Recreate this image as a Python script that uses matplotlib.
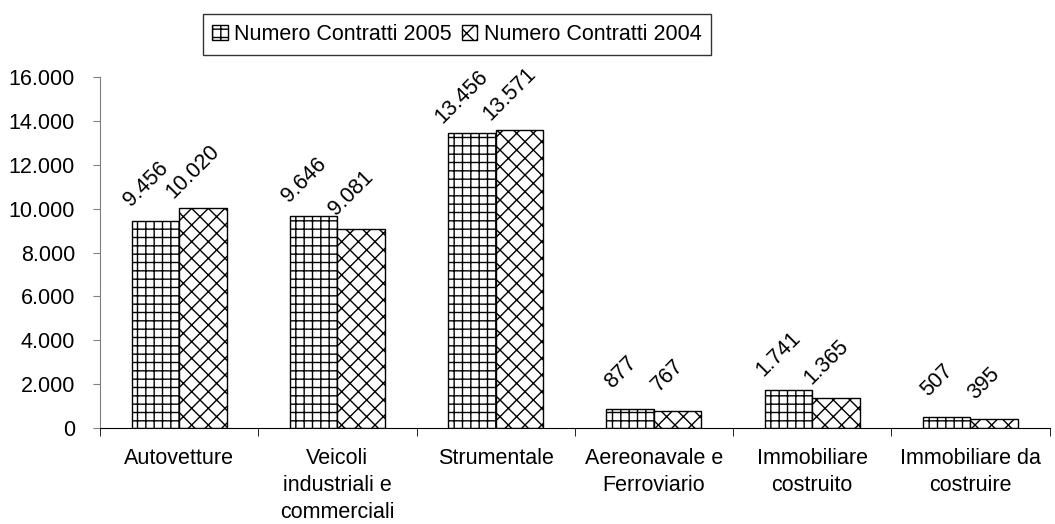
import numpy as np
import matplotlib
matplotlib.use('Agg')
import matplotlib.pyplot as plt

plt.rcParams['font.family'] = ['Liberation Sans', 'DejaVu Sans']
plt.rcParams['hatch.linewidth'] = 1.0

categories = ['Autovetture', 'Veicoli\nindustriali e\ncommerciali', 'Strumentale',
              'Aereonavale e\nFerroviario', 'Immobiliare\ncostruito', 'Immobiliare da\ncostruire']
contratti_2005 = [9456, 9646, 13456, 877, 1741, 507]
contratti_2004 = [10020, 9081, 13571, 767, 1365, 395]
y_ticks = [0, 2000, 4000, 6000, 8000, 10000, 12000, 14000, 16000]

FS = 15.5


def fmt(v):
    return f'{v:,}'.replace(',', '.')


fig = plt.figure(figsize=(10.55, 5.24), dpi=100)
ax = fig.add_axes([0.0948, 0.183, 0.9, 0.67])

x = np.arange(len(categories))
w = 0.3
b1 = ax.bar(x - w / 2, contratti_2005, w, color='white', edgecolor='black',
            hatch='++', linewidth=1.0, label='Numero Contratti 2005')
b2 = ax.bar(x + w / 2, contratti_2004, w, color='white', edgecolor='black',
            hatch='xx', linewidth=1.0, label='Numero Contratti 2004')

# value labels, rotated 45 degrees above each bar
for bars, vals in [(b1, contratti_2005), (b2, contratti_2004)]:
    for r, v in zip(bars, vals):
        ax.annotate(fmt(v), (r.get_x() + r.get_width() / 2, v), xytext=(-7, 26),
                    textcoords='offset points', rotation=45, ha='center',
                    va='center', rotation_mode='anchor', fontsize=FS)

ax.set_xlim(-0.5, len(categories) - 0.5)
ax.set_ylim(0, 16000)
ax.set_yticks(y_ticks)
ax.set_yticklabels([fmt(t) for t in y_ticks], fontsize=FS)
ax.tick_params(axis='y', direction='out', length=5, color='#808080', pad=13)

ax.set_xticks(x)
ax.set_xticklabels(categories, fontsize=FS, linespacing=1.4)
ax.tick_params(axis='x', length=0, pad=14)
ax.set_xticks(np.arange(len(categories) + 1) - 0.5, minor=True)
ax.tick_params(axis='x', which='minor', direction='out', length=6)

ax.spines['top'].set_visible(False)
ax.spines['right'].set_visible(False)
ax.spines['left'].set_color('#808080')
ax.spines['bottom'].set_color('black')

fig.legend(loc='upper left', bbox_to_anchor=(0.182, 0.993), ncol=2, fontsize=FS,
           frameon=True, fancybox=False, edgecolor='black', handlelength=0.7,
           handleheight=0.7, handletextpad=0.3, columnspacing=0.5,
           borderpad=0.45)

fig.savefig('out.png', dpi=100)
